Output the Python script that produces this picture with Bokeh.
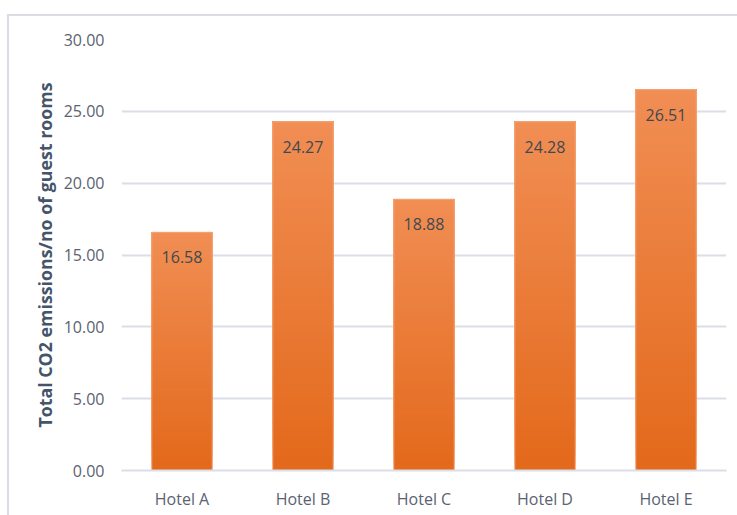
from bokeh.plotting import figure
from bokeh.models import (ColumnDataSource, Range1d, FixedTicker, NumeralTickFormatter,
                          LabelSet)
from bokeh.core.properties import value
from bokeh.embed import file_html
from bokeh.resources import INLINE

# ---- data ----
hotels = ["Hotel A", "Hotel B", "Hotel C", "Hotel D", "Hotel E"]
emissions = [16.58, 24.27, 18.88, 24.28, 26.51]
y_ticks = [0, 5, 10, 15, 20, 25, 30]
y_title = "Total CO2 emissions/no of guest rooms"

FONT = "Open Sans"
TOP_COLOR = (241, 142, 84)
BOT_COLOR = (227, 105, 27)

p = figure(x_range=hotels, y_range=Range1d(0, 30), width=730, height=501,
           output_backend="svg", toolbar_location=None,
           min_border_left=112, min_border_right=13, min_border_top=23,
           min_border_bottom=47)
p.margin = (14, 0, 0, 7)
p.styles = {"border-left": "2px solid #DADDE3", "border-top": "2px solid #DADDE3",
            "box-sizing": "border-box"}
p.outline_line_color = None
p.background_fill_color = "white"
p.border_fill_color = "white"

# gradient bars: overlapping slices (each from its bottom up to the bar top),
# drawn bottom-first so lighter colours cover the upper part
N = 48
xs, bots, tops, cols = [], [], [], []
for h, v in zip(hotels, emissions):
    for i in range(N):
        b = v * i / N
        f = (i + 0.5) / N
        c = tuple(int(round(BOT_COLOR[k] + (TOP_COLOR[k] - BOT_COLOR[k]) * f)) for k in range(3))
        xs.append(h); bots.append(b); tops.append(v); cols.append("#%02x%02x%02x" % c)
src = ColumnDataSource(dict(x=xs, bottom=bots, top=tops, color=cols))
p.vbar(x="x", bottom="bottom", top="top", width=0.5, source=src,
       fill_color="color", line_color=None)

bar_src = ColumnDataSource(dict(x=hotels, top=emissions,
                                label=["%.2f" % v for v in emissions]))
p.vbar(x="x", top="top", width=0.5, source=bar_src, fill_color=None,
       line_color="#F5A77B", line_width=1)

labels = LabelSet(x="x", y="top", text="label", source=bar_src, y_offset=-25,
                  text_align="center", text_baseline="middle",
                  text_font=value(FONT), text_font_size="16px", text_color="#404850")
p.add_layout(labels)

# grid
p.xgrid.grid_line_color = None
p.ygrid.grid_line_color = "#D9DEE8"
p.ygrid.grid_line_width = 2
p.ygrid.ticker = FixedTicker(ticks=y_ticks)

# y axis
p.yaxis.ticker = FixedTicker(ticks=y_ticks)
p.yaxis.formatter = NumeralTickFormatter(format="0.00")
p.yaxis.axis_line_color = None
p.yaxis.major_tick_line_color = None
p.yaxis.minor_tick_line_color = None
p.yaxis.major_label_standoff = 11
p.yaxis.major_label_text_font = FONT
p.yaxis.major_label_text_font_size = "16px"
p.yaxis.major_label_text_color = "#5B6272"
p.yaxis.axis_label = y_title
p.yaxis.axis_label_text_font = FONT
p.yaxis.axis_label_text_font_size = "17.8px"
p.yaxis.axis_label_text_font_style = "bold"
p.yaxis.axis_label_text_color = "#44546A"
p.yaxis.axis_label_standoff = 4

# x axis
p.xaxis.axis_line_color = "#D9DEE8"
p.xaxis.axis_line_width = 2
p.xaxis.major_tick_line_color = None
p.xaxis.minor_tick_line_color = None
p.xaxis.major_label_standoff = 11
p.xaxis.major_label_text_font = FONT
p.xaxis.major_label_text_font_size = "16px"
p.xaxis.major_label_text_color = "#5B6272"
p.x_range.range_padding = 0.0

open("out.html", "w").write(file_html(p, INLINE))
